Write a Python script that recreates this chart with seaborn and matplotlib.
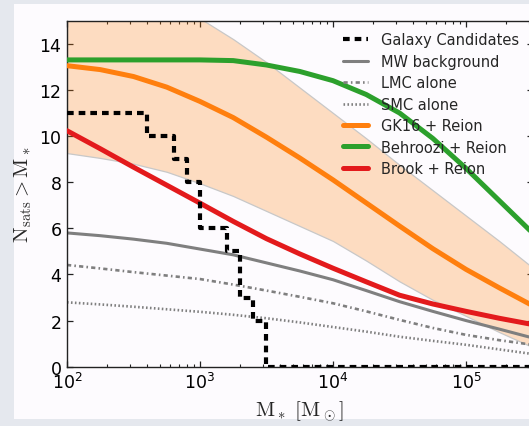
import numpy as np
import pandas as pd
import matplotlib
matplotlib.use("Agg")
import matplotlib.pyplot as plt
from matplotlib.patches import Rectangle
from matplotlib.lines import Line2D
import seaborn as sns

# ---------------- data ----------------
log_mass = [2.0, 2.25, 2.5, 2.75, 3.0, 3.25, 3.5, 3.75, 4.0, 4.25, 4.5, 4.75, 5.0, 5.25, 5.5]

mw_background = [5.80, 5.68, 5.53, 5.35, 5.10, 4.85, 4.50, 4.15, 3.77, 3.30, 2.82, 2.40, 2.00, 1.63, 1.25]
lmc_alone     = [4.41, 4.26, 4.10, 3.95, 3.80, 3.56, 3.30, 3.03, 2.75, 2.40, 2.03, 1.68, 1.38, 1.15, 0.95]
smc_alone     = [2.79, 2.70, 2.60, 2.49, 2.38, 2.25, 2.10, 1.92, 1.72, 1.52, 1.30, 1.12, 0.95, 0.75, 0.55]
gk16_reion    = [13.05, 12.88, 12.58, 12.12, 11.50, 10.80, 9.95, 9.05, 8.10, 7.10, 6.10, 5.12, 4.22, 3.42, 2.65]
behroozi_reion= [13.30, 13.30, 13.30, 13.30, 13.30, 13.27, 13.08, 12.80, 12.40, 11.80, 11.00, 9.90, 8.60, 7.20, 5.80]
brook_reion   = [10.23, 9.45, 8.65, 7.87, 7.09, 6.30, 5.55, 4.89, 4.27, 3.68, 3.10, 2.72, 2.40, 2.10, 1.83]
gk16_upper    = [17.50, 17.05, 16.60, 15.90, 15.10, 14.20, 13.20, 12.10, 11.00, 9.90, 8.75, 7.65, 6.55, 5.45, 4.30]
gk16_lower    = [9.26, 9.05, 8.80, 8.45, 7.95, 7.40, 6.75, 6.10, 5.45, 4.60, 3.70, 2.90, 2.20, 1.50, 0.85]

cand_mass  = [100, 400, 635, 800, 1000, 1585, 2000, 2500, 3162, 316228]
cand_count = [11, 10, 9, 8, 6, 5, 3, 2, 0, 0]

y_ticks = [0, 2, 4, 6, 8, 10, 12, 14]
x_ticks = [1e2, 1e3, 1e4, 1e5]

labels = ["Galaxy Candidates", "MW background", "LMC alone", "SMC alone",
          "GK16 + Reion", "Behroozi + Reion", "Brook + Reion"]

# ---------------- style ----------------
sns.set_style("ticks")
plt.rcParams["font.family"] = ["DejaVu Sans"]
plt.rcParams["mathtext.fontset"] = "cm"

W, H = 529, 427
fig = plt.figure(figsize=(W / 100, H / 100), dpi=100)
fig.patch.set_facecolor("#e5e8ee")
panel_color = "#fdfbfe"
fig.patches.append(Rectangle((14 / W, (H - 420) / H), 1.0, (420 - 5) / H,
                             transform=fig.transFigure, facecolor=panel_color,
                             edgecolor="none", zorder=-10))

ax = fig.add_axes([67 / W, (H - 367.7) / H, (532.5 - 67) / W, (367.7 - 21.7) / H])
ax.set_facecolor(panel_color)

mass = 10 ** np.array(log_mass)
df = pd.DataFrame({"mass": mass, "mw": mw_background, "lmc": lmc_alone, "smc": smc_alone,
                   "gk16": gk16_reion, "behroozi": behroozi_reion, "brook": brook_reion})

orange, green, red, gray = "#ff7f0e", "#2ca02c", "#e31a1c", "#7f7f7f"
dashdot = (0, (1.6, 1.2, 0.6, 1.2))
dotted = (0, (0.6, 0.9))
dashed = (0, (1.6, 1.2))

ax.fill_between(mass, gk16_lower, gk16_upper, facecolor=(1.0, 0.5, 0.05, 0.25),
                edgecolor="#c8c8c8", lw=0.9, zorder=1)

sns.lineplot(data=df, x="mass", y="mw", ax=ax, color=gray, lw=2.2, zorder=2)
sns.lineplot(data=df, x="mass", y="lmc", ax=ax, color=gray, lw=1.9, ls=dashdot, zorder=2)
sns.lineplot(data=df, x="mass", y="smc", ax=ax, color=gray, lw=1.9, ls=dotted, zorder=2)
sns.lineplot(data=df, x="mass", y="gk16", ax=ax, color=orange, lw=3.6, zorder=3)
sns.lineplot(data=df, x="mass", y="behroozi", ax=ax, color=green, lw=3.6, zorder=3)
sns.lineplot(data=df, x="mass", y="brook", ax=ax, color=red, lw=3.6, zorder=3)
sns.lineplot(x=cand_mass, y=cand_count, ax=ax, color="black", lw=3.0,
             ls=dashed, drawstyle="steps-post", zorder=4)

ax.set_xscale("log")
ax.set_xlim(1e2, 10 ** 5.5)
ax.set_ylim(0, 15)
ax.set_yticks(y_ticks)
ax.set_xticks(x_ticks)

for s in ax.spines.values():
    s.set_visible(True)
    s.set_linewidth(1.0)
    s.set_color("#222222")
ax.tick_params(which="both", direction="in", top=True, right=True, colors="#222222",
               labelcolor="black")
ax.tick_params(which="major", length=4, width=0.9, labelsize=12.5, pad=4)
ax.tick_params(which="minor", length=2.2, width=0.8)

ax.set_xlabel(r"$\mathrm{M_*\ [M_\odot]}$", fontsize=15, labelpad=4)
ax.set_ylabel(r"$\mathrm{N_{sats} > M_*}$", fontsize=15, labelpad=4)

handles = [
    Line2D([], [], color="black", lw=3.0, ls=dashed),
    Line2D([], [], color=gray, lw=2.2),
    Line2D([], [], color=gray, lw=1.9, ls=dashdot),
    Line2D([], [], color=gray, lw=1.9, ls=dotted),
    Line2D([], [], color=orange, lw=3.6),
    Line2D([], [], color=green, lw=3.6),
    Line2D([], [], color=red, lw=3.6),
]
ax.legend(handles, labels, loc="upper left", bbox_to_anchor=(343 / W, 1 - 33.5 / H),
          bbox_transform=fig.transFigure, frameon=False, fontsize=10.5,
          handlelength=1.7, handletextpad=0.9, labelspacing=0.44, borderpad=0,
          borderaxespad=0)

fig.savefig("out.png", dpi=100, facecolor=fig.get_facecolor())
